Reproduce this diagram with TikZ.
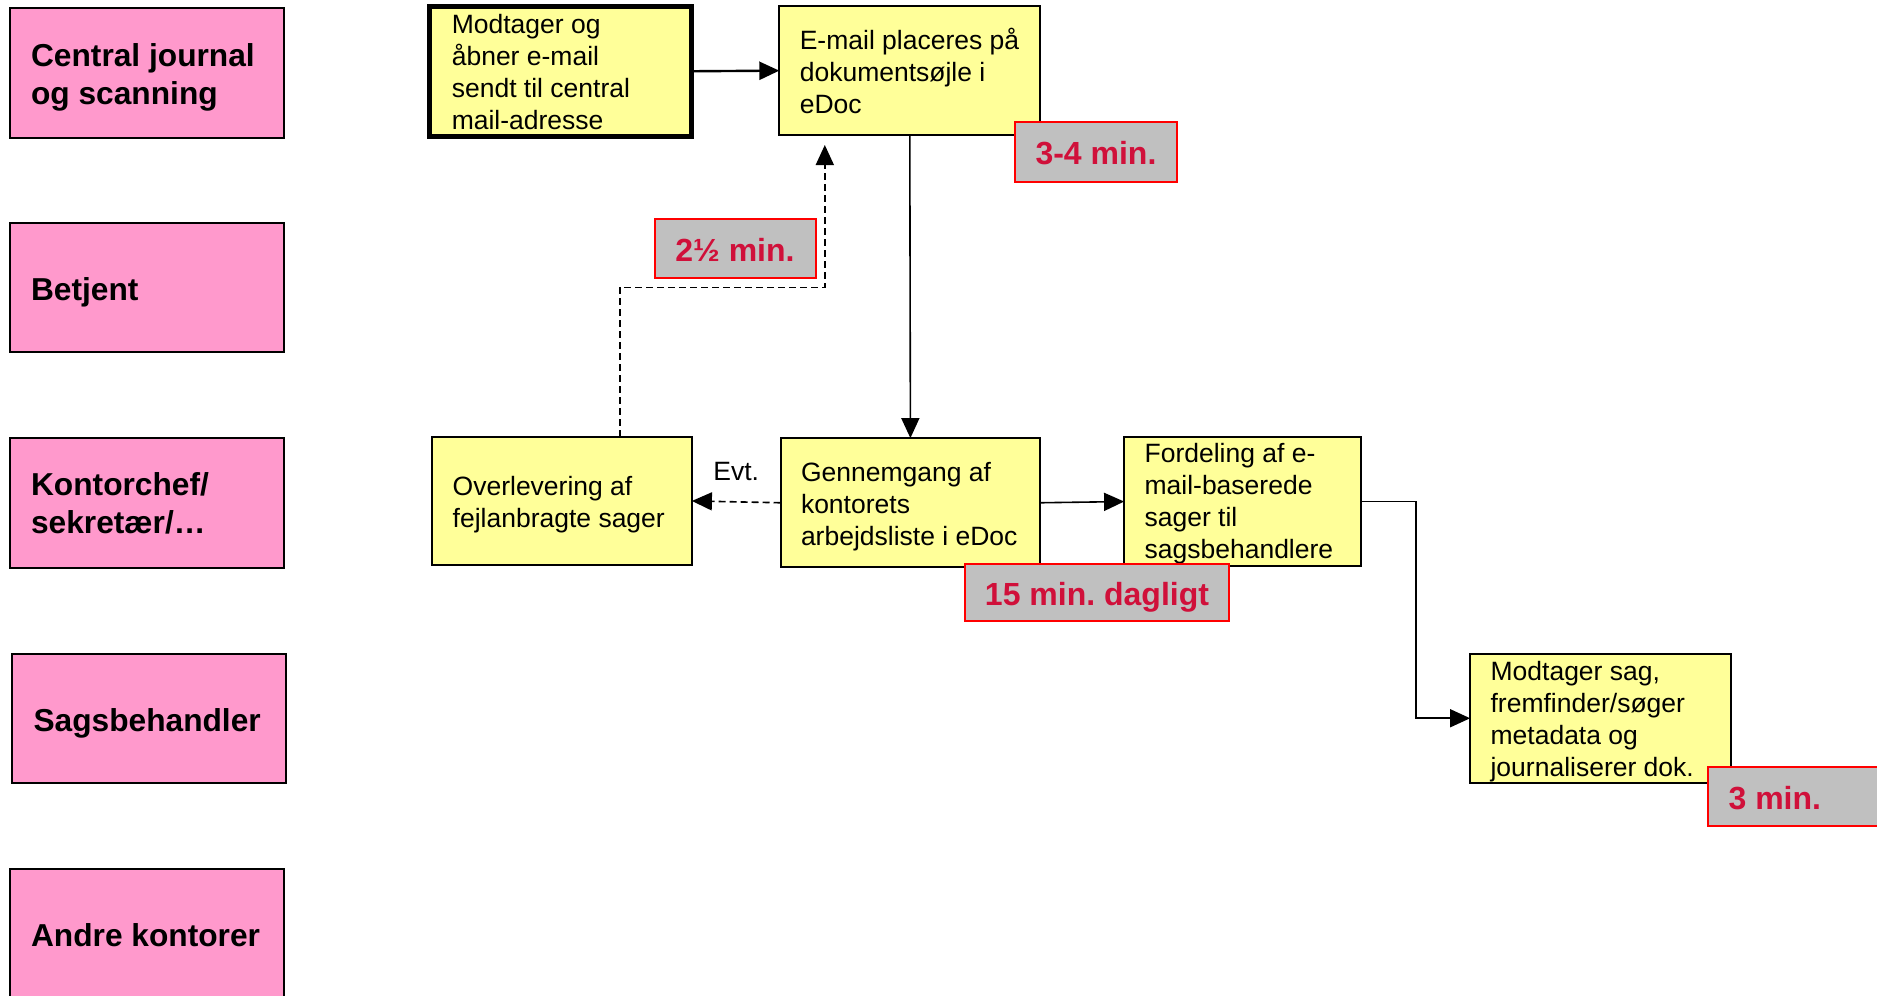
\documentclass[tikz,border=0pt]{standalone}
\usepackage{fontspec}
\setmainfont{Liberation Sans}
\usetikzlibrary{arrows.meta}
\frenchspacing
\definecolor{lanepink}{HTML}{FF99CC}
\definecolor{stepyellow}{HTML}{FFFF99}
\definecolor{timegray}{HTML}{C0C0C0}
\definecolor{timered}{HTML}{D0103A}
% left-aligned block of lines of a fixed width, nudged down by the optional amount
\newcommand\textlines[3][-4pt]{\raisebox{#1}[\height][\depth]{\makebox[#2][l]{\begin{tabular}{@{}l@{}}#3\end{tabular}}}}
\tikzset{
  lane/.style={draw=black, line width=2pt, fill=lanepink, anchor=north west, outer sep=0pt,
    minimum width=274pt, minimum height=129.5pt, inner xsep=21.5pt, inner ysep=0pt,
    font=\fontsize{31.7}{38}\selectfont\bfseries},
  stepbox/.style={draw=black, line width=2pt, fill=stepyellow, anchor=north west, outer sep=0pt,
    inner xsep=20.5pt, inner ysep=0pt, font=\fontsize{26.5}{32}\selectfont},
  timebox/.style={draw=red, line width=2pt, fill=timegray, text=timered, outer sep=0pt,
    inner sep=0pt, text height=25.4pt, text depth=0pt, font=\fontsize{32}{38}\selectfont\bfseries},
  flow/.style={line width=1.6pt, -{Triangle[length=20pt,width=18pt]}},
  maybeflow/.style={flow, dash pattern=on 7pt off 4pt},
}
\begin{document}
\begin{tikzpicture}[x=1pt,y=-1pt]
\useasboundingbox (0,0) rectangle (1877,996);

% swimlane headers
\node[lane] (lane1) at (9.6,8.4) {\textlines[-5.2pt]{231pt}{Central journal\\og scanning}};
\node[lane] (lane2) at (9.6,222.7) {\textlines[-5pt]{231pt}{Betjent}};
\node[lane] (lane3) at (9.6,438.1) {\textlines[-4.4pt]{231pt}{Kontorchef/\\sekretær/…}};
\node[lane] (lane4) at (12,653.6) {\textlines[-6pt]{231pt}{Sagsbehandler}};
\node[lane] (lane5) at (9.6,869) {\textlines[-5.5pt]{231pt}{Andre kontorer}};

% process steps
\node[stepbox, line width=5pt, inner xsep=22pt, minimum width=262pt, minimum height=130.5pt]
  (mail) at (429.8,6) {\textlines{218pt}{Modtager og\\åbner e-mail\\sendt til central\\mail-adresse}};
\node[stepbox, minimum width=261pt, minimum height=129.3pt]
  (place) at (779.3,6) {\textlines[-4.4pt]{220pt}{E-mail placeres på\\dokumentsøjle i\\eDoc}};
\node[stepbox, minimum width=259.7pt, minimum height=128.1pt]
  (handover) at (432.2,436.9) {\textlines{218.7pt}{Overlevering af\\fejlanbragte sager}};
\node[stepbox, minimum width=259.8pt, minimum height=129.3pt]
  (review) at (780.5,438.1) {\textlines{218.8pt}{Gennemgang af\\kontorets\\arbejdsliste i eDoc}};
\node[stepbox, minimum width=237pt, minimum height=129.3pt]
  (assign) at (1124.1,436.9) {\textlines[-3pt]{196pt}{Fordeling af e-\\mail-baserede\\sager til\\sagsbehandlere}};
\node[stepbox, minimum width=260.9pt, minimum height=129.3pt]
  (register) at (1470.1,653.6) {\textlines{219.9pt}{Modtager sag,\\fremfinder/søger\\metadata og\\journaliserer dok.}};

% connectors
\draw[flow, line width=2.4pt] (mail.east) -- (place.west);
\draw[flow] (place.south) -- (review.north);
\draw[flow] (review.east) -- (assign.west);
\draw[maybeflow] (review.west) -- node[midway, yshift=30pt, font=\fontsize{26.5}{32}\selectfont] (evt) {Evt.} (handover.east);

\coordinate (handoff) at (620,0);
\coordinate (turn) at (824.8,287.3);
\coordinate (backtip) at (824.8,145);
\draw[maybeflow] (handover.north -| handoff) |- (turn) -- (backtip);

\coordinate (elbow) at (1416.2,0);
\draw[flow] (assign.east) -- (assign.east -| elbow) -- (elbow |- register.west) -- (register.west);

% time estimates
\node[timebox, minimum width=161.7pt, minimum height=59.9pt] (t1) at (1096,152) {3-4 min.};
\node[timebox, minimum width=161pt, minimum height=59.5pt] (t2) at (735,248.4) {2½ min.};
\node[timebox, minimum width=264.5pt, minimum height=57.5pt] (t3) at (1097,592.5) {15 min. dagligt};
\node[timebox, anchor=north west, minimum height=59pt, minimum width=220pt, inner xsep=20.3pt]
  (t4) at (1708.3,767.3) {\makebox[179.4pt][l]{3 min.}};
\end{tikzpicture}
\end{document}
